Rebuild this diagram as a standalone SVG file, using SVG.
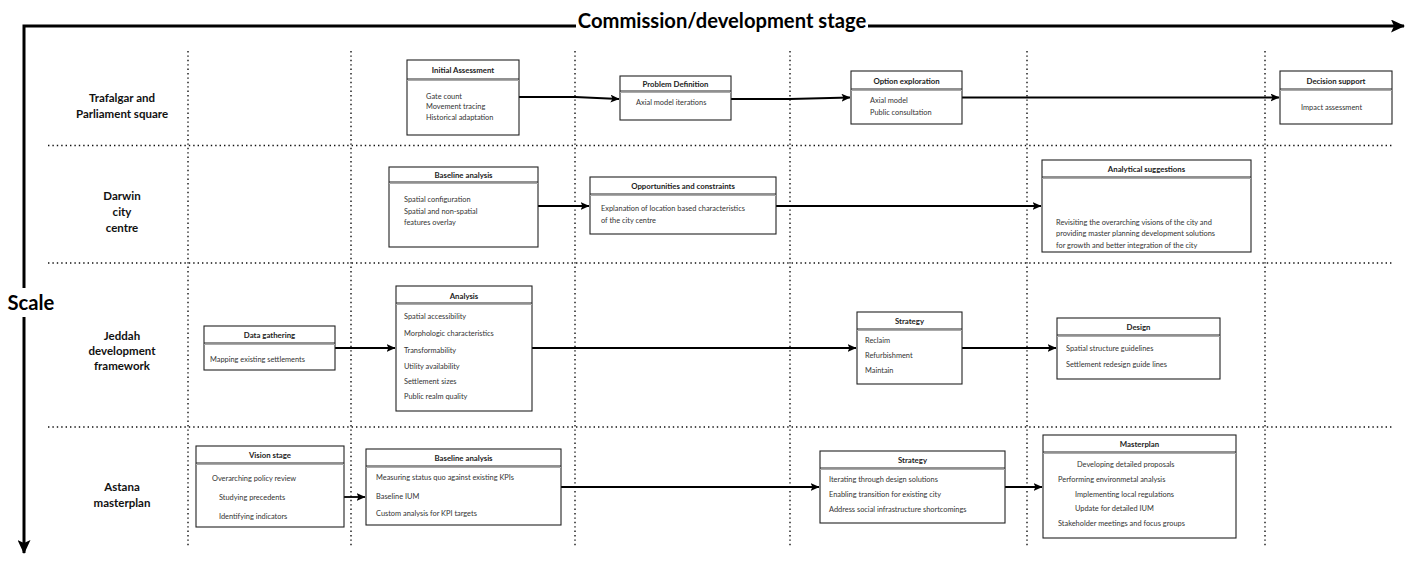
<svg xmlns="http://www.w3.org/2000/svg" width="1421" height="565" viewBox="0 0 1421 565">
<style>
.bx{fill:#fff;stroke:#222;stroke-width:1.1}
.hd{stroke:#222;stroke-width:1}
.hd2{stroke:#aaa;stroke-width:1}
.dot{stroke:#111;stroke-width:1.4;stroke-dasharray:1.4 3;fill:none}
.ax{stroke:#000;stroke-width:3;fill:none}
.cn{stroke:#000;stroke-width:1.8;fill:none}
text{font-family:Lato,"Liberation Sans",sans-serif;fill:#222;dominant-baseline:central}
.t{font-size:7.8px;font-weight:bold;text-anchor:middle}
.i{font-size:7.4px;fill:#333}
.rl{font-size:11.5px;font-weight:bold;text-anchor:middle;fill:#111}
.big{font-size:20.2px;font-weight:bold;fill:#000}
</style>
<defs>
<marker id="ah" markerWidth="9" markerHeight="8" refX="8.5" refY="4" orient="auto" markerUnits="userSpaceOnUse"><path d="M0,0 L9,4 L0,8 L2,4 z" fill="#000"/></marker>
<marker id="axh" markerWidth="14" markerHeight="13" refX="13" refY="6.5" orient="auto" markerUnits="userSpaceOnUse"><path d="M0,0 L14,6.5 L0,13 L3,6.5 z" fill="#000"/></marker>
</defs>
<g id="grid">
<path class="dot" d="M48,145.5 H1392 M48,263 H1392 M48,427 H1392"/>
<path class="dot" d="M188,51 V547 M351,51 V547 M575,51 V547 M790,51 V547 M1027,51 V547 M1265,51 V547"/>
</g>
<g id="axes">
<path class="ax" d="M576,26 H24 V288"/>
<path class="ax" d="M868,26 H1404" marker-end="url(#axh)"/>
<path class="ax" d="M24,317 V553" marker-end="url(#axh)"/>
<text class="big" x="722" y="20" text-anchor="middle">Commission/development stage</text>
<text class="big" x="31" y="302" text-anchor="middle">Scale</text>
</g>
<g id="row-labels">
<text class="rl" x="122" y="97">Trafalgar and</text>
<text class="rl" x="122" y="113">Parliament square</text>
<text class="rl" x="122" y="195">Darwin</text>
<text class="rl" x="122" y="211">city</text>
<text class="rl" x="122" y="227">centre</text>
<text class="rl" x="122" y="335">Jeddah</text>
<text class="rl" x="122" y="350">development</text>
<text class="rl" x="122" y="365">framework</text>
<text class="rl" x="122" y="486">Astana</text>
<text class="rl" x="122" y="502">masterplan</text>
</g>
<g id="connectors">
<path class="cn" d="M519,97 L575,97 L619,99" marker-end="url(#ah)"/>
<path class="cn" d="M731,99 L790,99 L850,97.5" marker-end="url(#ah)"/>
<path class="cn" d="M962,97.5 H1279" marker-end="url(#ah)"/>
<path class="cn" d="M538,206 H589" marker-end="url(#ah)"/>
<path class="cn" d="M776,206 H1041" marker-end="url(#ah)"/>
<path class="cn" d="M335,348 H395" marker-end="url(#ah)"/>
<path class="cn" d="M532,348 H856" marker-end="url(#ah)"/>
<path class="cn" d="M962,348 H1056" marker-end="url(#ah)"/>
<path class="cn" d="M344,497 H365" marker-end="url(#ah)"/>
<path class="cn" d="M561,487 H819" marker-end="url(#ah)"/>
<path class="cn" d="M1005,487 H1042" marker-end="url(#ah)"/>
</g>
<g id="initial-assessment">
<rect class="bx" x="407" y="60" width="112" height="75"/>
<line class="hd" x1="407" y1="79" x2="519" y2="79"/><line class="hd2" x1="407" y1="80.5" x2="519" y2="80.5"/>
<text class="t" x="463" y="70">Initial  Assessment</text>
<text class="i" x="426" y="96">Gate count</text>
<text class="i" x="426" y="106.5">Movement tracing</text>
<text class="i" x="426" y="117">Historical adaptation</text>
</g>
<g id="problem-definition">
<rect class="bx" x="620" y="76" width="111" height="44"/>
<line class="hd" x1="620" y1="91" x2="731" y2="91"/><line class="hd2" x1="620" y1="92.5" x2="731" y2="92.5"/>
<text class="t" x="675.5" y="83.5">Problem Definition</text>
<text class="i" x="636" y="102.5">Axial model iterations</text>
</g>
<g id="option-exploration">
<rect class="bx" x="851" y="71" width="111" height="53"/>
<line class="hd" x1="851" y1="89" x2="962" y2="89"/><line class="hd2" x1="851" y1="90.5" x2="962" y2="90.5"/>
<text class="t" x="906.5" y="80.5">Option exploration</text>
<text class="i" x="870" y="100">Axial model</text>
<text class="i" x="870" y="112">Public consultation</text>
</g>
<g id="decision-support">
<rect class="bx" x="1280" y="71" width="112" height="53"/>
<line class="hd" x1="1280" y1="89" x2="1392" y2="89"/><line class="hd2" x1="1280" y1="90.5" x2="1392" y2="90.5"/>
<text class="t" x="1336" y="80.5">Decision support</text>
<text class="i" x="1301" y="107">Impact assessment</text>
</g>
<g id="darwin-baseline-analysis">
<rect class="bx" x="389" y="167" width="149" height="80"/>
<line class="hd" x1="389" y1="182" x2="538" y2="182"/><line class="hd2" x1="389" y1="183.5" x2="538" y2="183.5"/>
<text class="t" x="463.5" y="174.5">Baseline analysis</text>
<text class="i" x="404" y="199">Spatial configuration</text>
<text class="i" x="404" y="211.5">Spatial and non-spatial</text>
<text class="i" x="404" y="222">features overlay</text>
</g>
<g id="opportunities-constraints">
<rect class="bx" x="590" y="177" width="186" height="57"/>
<line class="hd" x1="590" y1="194" x2="776" y2="194"/><line class="hd2" x1="590" y1="195.5" x2="776" y2="195.5"/>
<text class="t" x="683" y="185.5">Opportunities and constraints</text>
<text class="i" x="601" y="208">Explanation of location based characteristics</text>
<text class="i" x="601" y="220">of the city centre</text>
</g>
<g id="analytical-suggestions">
<rect class="bx" x="1042" y="160" width="209" height="92"/>
<line class="hd" x1="1042" y1="177" x2="1251" y2="177"/><line class="hd2" x1="1042" y1="178.5" x2="1251" y2="178.5"/>
<text class="t" x="1146.5" y="168.5">Analytical suggestions</text>
<text class="i" x="1056" y="222">Revisiting the overarching visions of the city and</text>
<text class="i" x="1056" y="233.5">providing master planning development solutions</text>
<text class="i" x="1056" y="245">for growth and better integration of the city</text>
</g>
<g id="data-gathering">
<rect class="bx" x="204" y="326" width="131" height="44"/>
<line class="hd" x1="204" y1="343" x2="335" y2="343"/><line class="hd2" x1="204" y1="344.5" x2="335" y2="344.5"/>
<text class="t" x="269.5" y="334.5">Data gathering</text>
<text class="i" x="210" y="359">Mapping existing settlements</text>
</g>
<g id="analysis">
<rect class="bx" x="396" y="286" width="136" height="125"/>
<line class="hd" x1="396" y1="303" x2="532" y2="303"/><line class="hd2" x1="396" y1="304.5" x2="532" y2="304.5"/>
<text class="t" x="464" y="295.5">Analysis</text>
<text class="i" x="404" y="316">Spatial accessibility</text>
<text class="i" x="404" y="333">Morphologic characteristics</text>
<text class="i" x="404" y="350">Transformability</text>
<text class="i" x="404" y="366">Utility availability</text>
<text class="i" x="404" y="381">Settlement sizes</text>
<text class="i" x="404" y="396">Public realm quality</text>
</g>
<g id="jeddah-strategy">
<rect class="bx" x="857" y="312" width="105" height="72"/>
<line class="hd" x1="857" y1="329" x2="962" y2="329"/><line class="hd2" x1="857" y1="330.5" x2="962" y2="330.5"/>
<text class="t" x="909.5" y="321">Strategy</text>
<text class="i" x="865" y="340">Reclaim</text>
<text class="i" x="865" y="355">Refurbishment</text>
<text class="i" x="865" y="370">Maintain</text>
</g>
<g id="design">
<rect class="bx" x="1057" y="318" width="163" height="61"/>
<line class="hd" x1="1057" y1="335" x2="1220" y2="335"/><line class="hd2" x1="1057" y1="336.5" x2="1220" y2="336.5"/>
<text class="t" x="1138.5" y="327">Design</text>
<text class="i" x="1066" y="348">Spatial structure guidelines</text>
<text class="i" x="1066" y="364">Settlement redesign guide lines</text>
</g>
<g id="vision-stage">
<rect class="bx" x="196" y="446" width="148" height="81"/>
<line class="hd" x1="196" y1="463" x2="344" y2="463"/><line class="hd2" x1="196" y1="464.5" x2="344" y2="464.5"/>
<text class="t" x="270" y="455">Vision stage</text>
<text class="i" x="212" y="478">Overarching policy review</text>
<text class="i" x="219" y="497">Studying precedents</text>
<text class="i" x="219" y="516">Identifying indicators</text>
</g>
<g id="astana-baseline-analysis">
<rect class="bx" x="366" y="449" width="195" height="76"/>
<line class="hd" x1="366" y1="466" x2="561" y2="466"/><line class="hd2" x1="366" y1="467.5" x2="561" y2="467.5"/>
<text class="t" x="463.5" y="458">Baseline analysis</text>
<text class="i" x="376" y="477">Measuring status quo against existing KPIs</text>
<text class="i" x="376" y="496">Baseline IUM</text>
<text class="i" x="376" y="513">Custom analysis for KPI targets</text>
</g>
<g id="astana-strategy">
<rect class="bx" x="820" y="451" width="185" height="72"/>
<line class="hd" x1="820" y1="468" x2="1005" y2="468"/><line class="hd2" x1="820" y1="469.5" x2="1005" y2="469.5"/>
<text class="t" x="912.5" y="459.5">Strategy</text>
<text class="i" x="829" y="479">Iterating through design solutions</text>
<text class="i" x="829" y="494">Enabling transition for existing city</text>
<text class="i" x="829" y="509">Address social infrastructure shortcomings</text>
</g>
<g id="masterplan">
<rect class="bx" x="1043" y="435" width="193" height="103"/>
<line class="hd" x1="1043" y1="452" x2="1236" y2="452"/><line class="hd2" x1="1043" y1="453.5" x2="1236" y2="453.5"/>
<text class="t" x="1139.5" y="444">Masterplan</text>
<text class="i" x="1077" y="464">Developing detailed proposals</text>
<text class="i" x="1058" y="479">Performing environmetal analysis</text>
<text class="i" x="1075" y="494">Implementing local regulations</text>
<text class="i" x="1075" y="508">Update for detailed IUM</text>
<text class="i" x="1058" y="523">Stakeholder meetings and focus groups</text>
</g>
</svg>
